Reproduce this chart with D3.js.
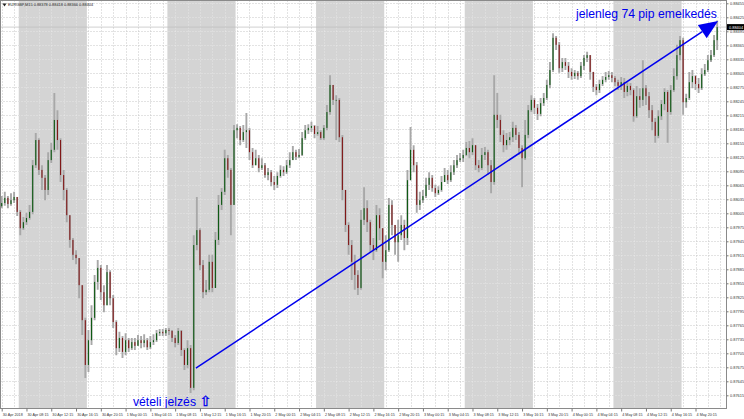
<!DOCTYPE html>
<html><head><meta charset="utf-8">
<script src="https://cdn.jsdelivr.net/npm/d3@7"></script>
<style>body{margin:0;background:#fff;} svg{display:block;font-family:"Liberation Sans",Arial,sans-serif;}</style>
</head><body>
<svg id="c" width="744" height="419"></svg>
<script>
// ---------- DATA ----------
const titleText = "EURGBP,M15  0.88378 0.88418 0.88366 0.88404";
const startHour = 4;          // first candle: 30 Apr 04:00 (hours since 30 Apr 00:00)
const barHours = 0.5;
const firstOpen = 88020;      // prices in 1e-5 units
const closes = [
88027,88038,88025,88033,88040,88008,87973,87986,87995,88008,
88108,88162,88098,88081,88055,88119,88141,88205,88162,88087,
88055,88001,87948,87916,87909,87851,87776,87680,87733,87781,
87858,87888,87836,87808,87879,87823,87772,87716,87738,87708,
87733,87716,87729,87721,87733,87727,87733,87718,87729,87733,
87748,87751,87748,87755,87753,87738,87727,87753,87712,87680,
87716,87631,87937,87969,87894,87836,87841,87901,87845,87948,
88023,88051,88123,88098,88023,88183,88188,88162,88179,88183,
88136,88108,88123,88102,88108,88087,88093,88072,88066,88085,
88098,88093,88108,88119,88136,88126,88130,88166,88183,88188,
88192,88175,88179,88166,88188,88222,88280,88248,88248,88168,
88055,87980,87937,87901,87873,87845,87991,88016,87986,87937,
87926,88001,87973,87901,87926,88023,87980,87943,87958,87980,
87952,88076,88141,88108,88023,88033,88042,88066,88081,88059,
88048,88055,88072,88087,88076,88093,88108,88119,88123,88130,
88145,88136,88151,88108,88102,88130,88136,88108,88072,88216,
88205,88173,88151,88162,88168,88188,88173,88145,88123,88173,
88226,88248,88231,88218,88241,88252,88280,88312,88381,88366,
88316,88329,88321,88308,88299,88306,88299,88321,88338,88344,
88308,88276,88269,88282,88291,88297,88301,88295,88286,88278,
88286,88265,88278,88269,88213,88256,88248,88273,88256,88226,
88201,88171,88213,88239,88265,88222,88269,88299,88344,88376,
88243,88252,88286,88299,88282,88273,88303,88312,88333,88344,
88376,88404];
const highs = [
88042,88051,88042,88048,88051,88033,88012,87997,88006,88023,
88119,88177,88166,88108,88087,88136,88156,88263,88226,88166,
88098,88059,88001,87952,87926,87909,87851,87781,87755,87808,
87873,87905,87894,87851,87894,87883,87830,87776,87751,87742,
87748,87738,87738,87738,87744,87742,87746,87738,87742,87746,
87755,87757,87757,87759,87759,87755,87744,87759,87755,87716,
87733,87723,87958,88040,87973,87905,87862,87916,87916,87965,
88044,88059,88141,88130,88102,88194,88196,88192,88194,88220,
88188,88145,88141,88130,88123,88113,88102,88098,88085,88093,
88108,88106,88119,88136,88149,88141,88143,88179,88194,88196,
88201,88194,88192,88183,88194,88237,88301,88273,88258,88252,
88173,88055,87986,87948,87916,87883,88012,88061,88033,87991,
87952,88023,88016,87973,87958,88038,88033,87980,87991,88001,
87991,88098,88190,88151,88115,88051,88055,88081,88093,88087,
88066,88063,88085,88102,88098,88108,88119,88130,88134,88141,
88158,88160,88166,88151,88119,88145,88147,88141,88119,88301,
88263,88216,88183,88177,88179,88201,88194,88179,88151,88205,
88237,88258,88252,88239,88252,88263,88291,88329,88391,88385,
88372,88338,88338,88329,88316,88312,88310,88329,88344,88351,
88344,88308,88282,88291,88299,88308,88310,88308,88299,88291,
88297,88295,88286,88284,88273,88278,88273,88333,88280,88265,
88237,88209,88226,88248,88273,88269,88280,88316,88366,88385,
88381,88261,88308,88312,88301,88295,88316,88325,88344,88355,
88387,88418];
const lows = [
88016,88021,88016,88021,88027,87999,87958,87969,87980,87991,
88003,88102,88087,88055,88033,88044,88113,88136,88141,88072,
88033,87986,87931,87905,87896,87823,87744,87652,87665,87723,
87776,87841,87819,87793,87808,87808,87759,87701,87708,87695,
87701,87708,87712,87712,87721,87716,87718,87712,87714,87723,
87729,87742,87742,87742,87744,87729,87718,87723,87699,87669,
87673,87620,87626,87926,87883,87823,87830,87836,87836,87845,
87937,88012,88044,88081,87958,88023,88166,88151,88158,88145,
88119,88102,88108,88093,88098,88081,88076,88063,88055,88059,
88081,88085,88089,88102,88119,88119,88123,88128,88162,88175,
88179,88166,88171,88162,88162,88183,88216,88237,88162,88158,
88033,87965,87916,87862,87841,87830,87841,87980,87965,87922,
87905,87922,87948,87866,87883,87922,87958,87916,87901,87948,
87926,87937,88081,88093,88006,88012,88027,88038,88055,88051,
88040,88044,88051,88072,88068,88072,88087,88102,88115,88115,
88128,88123,88130,88098,88093,88098,88119,88087,88048,88066,
88188,88158,88136,88141,88151,88158,88162,88130,88061,88119,
88166,88222,88218,88205,88213,88235,88248,88273,88308,88355,
88306,88308,88312,88295,88291,88293,88291,88295,88312,88329,
88291,88265,88258,88263,88278,88286,88291,88286,88278,88269,
88269,88252,88256,88258,88201,88209,88231,88235,88237,88209,
88183,88156,88166,88205,88226,88156,88216,88265,88291,88333,
88216,88231,88248,88273,88269,88263,88269,88299,88308,88329,
88340,88355];
const priceTicks = [0.88455,0.88425,0.88395,0.88365,0.88335,0.88305,0.88275,0.88245,0.88215,0.88185,
  0.88155,0.88125,0.88095,0.88065,0.88035,0.88005,0.87975,0.87945,0.87915,0.87885,0.87855,
  0.87825,0.87795,0.87765,0.87735,0.87705,0.87675,0.87645,0.87615];
const timeTickHours = [4.25,8.25,12.25,16.25,20.25,24.25,28.25,32.25,36.25,40.25,44.25,48.25,52.25,56.25,
  60.25,64.25,68.25,72.25,76.25,80.25,84.25,88.25,92.25,96.25,100.25,104.25,108.25,112.25,116.25];
const timeTickLabels = ["30 Apr 2018","30 Apr 08:15","30 Apr 12:15","30 Apr 16:15","30 Apr 20:15",
  "1 May 00:15","1 May 04:15","1 May 08:15","1 May 12:15","1 May 16:15","1 May 20:15",
  "2 May 00:15","2 May 04:15","2 May 08:15","2 May 12:15","2 May 16:15","2 May 20:15",
  "3 May 00:15","3 May 04:15","3 May 08:15","3 May 12:15","3 May 16:15","3 May 20:15",
  "4 May 00:15","4 May 04:15","4 May 08:15","4 May 12:15","4 May 16:15","4 May 20:15"];
const sessionDays = [0,1,2,3,4];
const sessionHours = [7,18];
const lastPrice = 0.88404;
const trendLine = [{h:35.6, p:0.87673},{h:119.9, p:0.88417}];
const trendText = "jelenleg 74 pip emelkedés";
const signalText = "vételi jelzés";

// ---------- LAYOUT ----------
const W = 744, H = 419;
const plot = {l:0.5, r:726.5, t:0.5, b:408.5};
const svg = d3.select("#c");
svg.append("rect").attr("width",W).attr("height",H).attr("fill","#fff");

const x = d3.scaleLinear().domain([4.25,116.25]).range([1.7,695.5]);
const y = d3.scaleLinear().domain([0.87615,0.88455]).range([395.3,3.3]);

const defs = svg.append("defs");
defs.append("clipPath").attr("id","plotClip").append("rect")
  .attr("x",plot.l).attr("y",plot.t).attr("width",plot.r-plot.l).attr("height",plot.b-plot.t);
const bandClip = defs.append("clipPath").attr("id","bandClip");

const g = svg.append("g").attr("clip-path","url(#plotClip)");

// session bands
sessionDays.forEach(d=>{
  const x0 = x(24*d+sessionHours[0]), x1 = x(24*d+sessionHours[1]);
  g.append("rect").attr("x",x0).attr("y",plot.t).attr("width",x1-x0).attr("height",plot.b-plot.t).attr("fill","#d4d4d4");
  bandClip.append("rect").attr("x",x0).attr("y",plot.t).attr("width",x1-x0).attr("height",plot.b-plot.t);
});

// grid
const vGrid = d3.range(4.25, 122, 2);
function drawGrid(parent, color){
  parent.selectAll("line.h").data(priceTicks).join("line").attr("class","h")
    .attr("x1",plot.l).attr("x2",plot.r).attr("y1",d=>Math.round(y(d))+0.5).attr("y2",d=>Math.round(y(d))+0.5)
    .attr("stroke",color).attr("stroke-width",1).attr("stroke-dasharray","1,2");
  parent.selectAll("line.v").data(vGrid).join("line").attr("class","v")
    .attr("y1",plot.t).attr("y2",plot.b).attr("x1",d=>Math.round(x(d))+0.5).attr("x2",d=>Math.round(x(d))+0.5)
    .attr("stroke",color).attr("stroke-width",1).attr("stroke-dasharray","1,2");
}
drawGrid(g.append("g"), "#c6c6c6");
drawGrid(g.append("g").attr("clip-path","url(#bandClip)"), "#ececec");

// last price line
g.append("line").attr("x1",plot.l).attr("x2",plot.r).attr("y1",y(lastPrice)).attr("y2",y(lastPrice))
  .attr("stroke","#bdbdbd").attr("stroke-width",0.7);

// candles
const candles = closes.map((c,i)=>{
  const o = (i===0 ? firstOpen : closes[i-1]) / 1e5;
  const cl = c/1e5;
  return {t: startHour + barHours*i + barHours/2, o, c: cl,
          h: Math.max(highs[i]/1e5, o, cl), l: Math.min(lows[i]/1e5, o, cl)};
});
const cg = g.append("g");
cg.selectAll("line.w").data(candles).join("line").attr("class","w")
  .attr("x1",d=>x(d.t)).attr("x2",d=>x(d.t)).attr("y1",d=>y(d.h)).attr("y2",d=>y(d.l))
  .attr("stroke","#a8a8a8").attr("stroke-width",1.9);
cg.selectAll("rect.b").data(candles).join("rect").attr("class","b")
  .attr("x",d=>x(d.t)-0.55).attr("width",1.1)
  .attr("y",d=>y(Math.max(d.o,d.c)))
  .attr("height",d=>Math.max(0.8, Math.abs(y(d.o)-y(d.c))))
  .attr("fill",d=>d.c>=d.o ? "#0f5a14" : "#801818");

// trend line with arrowhead
const p0 = [x(trendLine[0].h), y(trendLine[0].p)], p1 = [x(trendLine[1].h), y(trendLine[1].p)];
const ang = Math.atan2(p1[1]-p0[1], p1[0]-p0[0]);
const aL = 19, aW = 8;
const base = [p1[0]-aL*Math.cos(ang), p1[1]-aL*Math.sin(ang)];
g.append("line").attr("x1",p0[0]).attr("y1",p0[1]).attr("x2",base[0]).attr("y2",base[1])
  .attr("stroke","#0000ee").attr("stroke-width",1.5);
g.append("polygon").attr("points",[
  p1, [base[0]+aW*Math.sin(ang), base[1]-aW*Math.cos(ang)], [base[0]-aW*Math.sin(ang), base[1]+aW*Math.cos(ang)]
].map(p=>p.join(",")).join(" ")).attr("fill","#0000ee");

// annotations
svg.append("text").attr("x",576).attr("y",18).attr("font-size",12.2).attr("fill","#0000ee").text(trendText);
const st = svg.append("text").attr("x",133).attr("y",406).attr("font-size",12.2).attr("fill","#0000ee");
st.append("tspan").text(signalText+" ");
st.append("tspan").attr("font-family","DejaVu Sans").attr("font-size",14).attr("stroke","#0000ee").attr("stroke-width",0.4).text("⇧");

// header
svg.append("path").attr("d","M2.5,3.5 L6.5,3.5 L4.5,6.5 Z").attr("fill","#222");
svg.append("text").attr("x",8).attr("y",6.3).attr("font-size",3.9).attr("fill","#222").text(titleText);

// frame
svg.append("rect").attr("x",plot.l).attr("y",plot.t).attr("width",plot.r-plot.l).attr("height",plot.b-plot.t)
  .attr("fill","none").attr("stroke","#8a8a8a").attr("stroke-width",1);

// price axis
const ya = svg.append("g").attr("transform",`translate(${plot.r},0)`)
  .call(d3.axisRight(y).tickValues(priceTicks).tickSize(2).tickPadding(1.5).tickFormat(d3.format(".5f")));
ya.select(".domain").remove();
ya.selectAll("line").attr("stroke","#777");
ya.selectAll("text").attr("font-size",3.9).attr("fill","#333").attr("font-family","Liberation Sans, Arial");

// last price box
svg.append("rect").attr("x",727).attr("y",y(lastPrice)-3).attr("width",17).attr("height",6).attr("fill","#000");
svg.append("text").attr("x",729).attr("y",y(lastPrice)+1.4).attr("font-size",3.9).attr("fill","#fff").text(d3.format(".5f")(lastPrice));

// time axis
const xa = svg.append("g").attr("transform",`translate(0,${plot.b})`)
  .call(d3.axisBottom(x).tickValues(timeTickHours).tickSize(3).tickFormat((d,i)=>timeTickLabels[i]));
xa.select(".domain").remove();
xa.selectAll("line").attr("stroke","#777");
xa.selectAll("text").attr("font-size",3.7).attr("fill","#333").attr("text-anchor","start")
  .attr("dx",0.6).attr("dy",1.5).attr("font-family","Liberation Sans, Arial");
</script>
</body></html>
